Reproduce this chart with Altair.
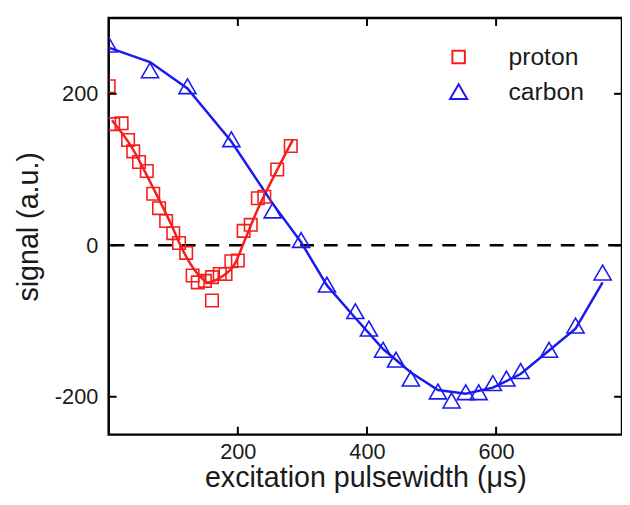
import altair as alt
import pandas as pd

# ---- data ----
proton_x = [0, 7, 20, 30, 38, 47, 59, 69, 78, 89, 100, 109, 120, 130, 138, 149, 160, 160, 172, 181, 190, 200, 209, 220, 231, 241, 261, 282]
proton_y = [210, 160, 161, 139, 124, 110, 98, 68, 49, 32, 16, 3, -10, -40, -49, -47, -42, -73, -38, -38, -21, -20, 19, 27, 62, 64, 100, 131]

carbon_x = [0, 64, 122, 190, 254, 298, 338, 382, 403, 425, 445, 468, 510, 531, 553, 573, 595, 616, 638, 682, 723, 765]
carbon_y = [265, 231, 210, 140, 46, 7, -52, -87, -110, -138, -151, -176, -193, -205, -194, -194, -182, -176, -166, -138, -106, -36]

proton_fit_x = [5, 36, 67, 97, 110, 122, 138, 154, 174, 195, 210, 231, 251, 285]
proton_fit_y = [165, 129, 79, 27, 2, -18, -38, -49, -42, -25, 5, 48, 83, 139]

carbon_fit_x = [0, 64, 122, 190, 254, 298, 338, 382, 425, 468, 510, 553, 595, 638, 682, 723, 765]
carbon_fit_y = [261, 242, 207, 137, 55, 4, -53, -96, -137, -168, -191, -196, -188, -170, -139, -110, -49]

series_names = ["proton", "carbon"]
x_tick_values = [200, 400, 600]
y_tick_values = [-200, 0, 200]

RED = "#f51e1e"
BLUE = "#1a1aee"
FONT = "Liberation Sans"
TXT = "#1a1a1a"

W, H = 520, 422

pts = pd.DataFrame({
    "x": proton_x + carbon_x,
    "y": proton_y + carbon_y,
    "series": ["proton"] * len(proton_x) + ["carbon"] * len(carbon_x),
})
pfit = pd.DataFrame({"x": proton_fit_x, "y": proton_fit_y})
cfit = pd.DataFrame({"x": carbon_fit_x, "y": carbon_fit_y})
xt = pd.DataFrame({"v": x_tick_values})
yt = pd.DataFrame({"v": y_tick_values})
zero = pd.DataFrame({"v": [0]})

xs = alt.Scale(domain=[0, 795], nice=False, zero=False)
ys = alt.Scale(domain=[-250, 300], nice=False, zero=False)

x_axis = alt.Axis(values=x_tick_values, title="excitation pulsewidth (μs)", grid=False,
                  domain=False, ticks=False, labelFontSize=22, labelPadding=7,
                  labelExpr="'' + datum.value",
                  titleFontSize=29, titleFontWeight="normal", titlePadding=2,
                  labelColor=TXT, titleColor=TXT, labelFont=FONT, titleFont=FONT)
y_axis = alt.Axis(values=y_tick_values, title="signal (a.u.)", grid=False,
                  domain=False, ticks=False, labelFontSize=22, labelPadding=11,
                  labelExpr="'' + datum.value",
                  titleFontSize=29, titleFontWeight="normal", titlePadding=11,
                  labelColor=TXT, titleColor=TXT, labelFont=FONT, titleFont=FONT)

dash = alt.Chart(zero).mark_rule(color="black", strokeWidth=2.5, strokeDash=[14, 10]).encode(
    y=alt.Y("v:Q", scale=ys, axis=y_axis)
)

pline = alt.Chart(pfit).mark_line(color=RED, strokeWidth=2.5, interpolate="monotone").encode(
    x=alt.X("x:Q", scale=xs, axis=x_axis), y=alt.Y("y:Q", scale=ys, axis=y_axis)
)
cline = alt.Chart(cfit).mark_line(color=BLUE, strokeWidth=2.5).encode(
    x=alt.X("x:Q", scale=xs, axis=x_axis), y=alt.Y("y:Q", scale=ys, axis=y_axis)
)

legend = alt.Legend(title=None, orient="none", legendX=342, legendY=27,
                    labelFontSize=25, labelFont=FONT, labelColor=TXT,
                    symbolStrokeWidth=2, labelOffset=38, rowPadding=9, padding=0)

points = alt.Chart(pts).mark_point(filled=False, strokeWidth=1.6, clip=True, opacity=1).encode(
    x=alt.X("x:Q", scale=xs, axis=x_axis),
    y=alt.Y("y:Q", scale=ys, axis=y_axis),
    color=alt.Color("series:N", scale=alt.Scale(domain=series_names, range=[RED, BLUE]), legend=legend),
    shape=alt.Shape("series:N", scale=alt.Scale(domain=series_names, range=["square", "triangle-up"]), legend=legend),
    size=alt.Size("series:N", scale=alt.Scale(domain=series_names, range=[160, 300]), legend=legend),
)

# inward tick marks on all four sides
t_bottom = alt.Chart(xt).mark_rule(color="black", strokeWidth=2).encode(
    x=alt.X("v:Q", scale=xs), y=alt.value(H), y2=alt.value(H - 8))
t_top = alt.Chart(xt).mark_rule(color="black", strokeWidth=2).encode(
    x=alt.X("v:Q", scale=xs), y=alt.value(0), y2=alt.value(8))
t_left = alt.Chart(yt).mark_rule(color="black", strokeWidth=2).encode(
    y=alt.Y("v:Q", scale=ys), x=alt.value(0), x2=alt.value(8))
t_right = alt.Chart(yt).mark_rule(color="black", strokeWidth=2).encode(
    y=alt.Y("v:Q", scale=ys), x=alt.value(W - 8), x2=alt.value(W))

chart = alt.layer(dash, pline, cline, points, t_bottom, t_top, t_left, t_right).properties(
    width=W, height=H,
    autosize=alt.AutoSizeParams(type="none"),
    padding={"left": 102, "top": 7, "right": 0, "bottom": 61},
    background="white",
).configure_view(stroke="black", strokeWidth=2.5).configure_axis(labelFont=FONT, titleFont=FONT)

chart.save("out.html", embed_options={"renderer": "svg", "actions": False})
